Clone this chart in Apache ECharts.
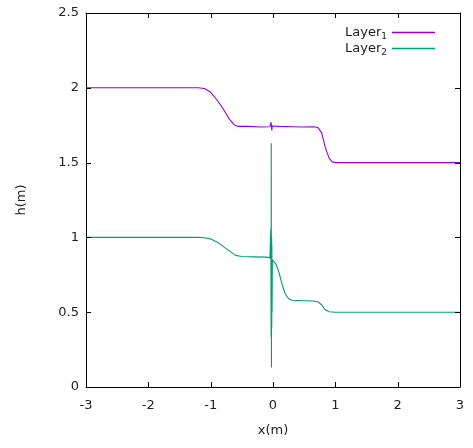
<!DOCTYPE html>
<html>
<head>
<meta charset="utf-8">
<script src="https://cdn.jsdelivr.net/npm/echarts@6/dist/echarts.min.js"></script>
<style>
  html, body { margin: 0; padding: 0; background: #fff; }
  #chart { width: 473px; height: 448px; }
</style>
</head>
<body>
<div id="chart"></div>
<script>
// values
const layer1X = [-3, -1.2, -1.1, -1.0, -0.9, -0.8, -0.7, -0.62, -0.55, -0.4, -0.2, -0.05, -0.03, -0.02, -0.01, 0.1, 0.3, 0.5, 0.65, 0.72, 0.78, 0.84, 0.9, 0.95, 1.0, 3]
const layer1H = [2.0, 2.0, 1.995, 1.97, 1.92, 1.86, 1.79, 1.752, 1.742, 1.742, 1.738, 1.74, 1.77, 1.715, 1.745, 1.742, 1.74, 1.738, 1.74, 1.735, 1.7, 1.6, 1.53, 1.505, 1.5, 1.5]

const layer2X = [-3, -1.2, -1.1, -1.0, -0.9, -0.8, -0.7, -0.6, -0.5, -0.3, -0.1, -0.05, -0.04, -0.035, -0.03, -0.028, -0.025, -0.022, -0.02, -0.018, -0.015, -0.01, 0.0, 0.05, 0.1, 0.15, 0.2, 0.25, 0.3, 0.5, 0.65, 0.72, 0.78, 0.83, 0.9, 1.0, 3]
const layer2H = [1.0, 1.0, 0.998, 0.99, 0.97, 0.94, 0.91, 0.88, 0.872, 0.87, 0.868, 0.862, 0.87, 1.06, 0.33, 1.63, 0.13, 1.0, 0.4, 0.95, 0.5, 0.85, 0.84, 0.82, 0.76, 0.68, 0.62, 0.59, 0.58, 0.577, 0.575, 0.57, 0.55, 0.52, 0.503, 0.5, 0.5]

const xTickValues = [-3, -2, -1, 0, 1, 2, 3]
const yTickValues = [0, 0.5, 1, 1.5, 2, 2.5]

const xMin = -3, xMax = 3, xStep = 1
const yMin = 0, yMax = 2.5, yStep = 0.5

const zip = (xs, ys) => xs.map((x, i) => [x, ys[i]])

const grid = { left: 86, right: 13, top: 13, bottom: 61 }
const font = 'DejaVu Sans'
const textColor = '#222'
const frameColor = '#000'
const tickLen = 5

const myChart = echarts.init(document.getElementById('chart'))

const axisLine = { show: true, onZero: false, lineStyle: { color: frameColor, width: 1 } }

const option = {
  animation: false,
  backgroundColor: '#fff',
  grid: grid,
  legend: {
    orient: 'vertical',
    right: 33,
    top: 21,
    align: 'right',
    icon: 'rect',
    itemWidth: 43,
    itemHeight: 1.5,
    itemGap: 1,
    formatter: name => name.replace(/(\d)$/, '{s|$1}'),
    textStyle: {
      fontFamily: font,
      fontSize: 13,
      color: textColor,
      rich: { s: { fontFamily: font, fontSize: 9, padding: [8, 0, 0, 0] } }
    },
    data: ['Layer1', 'Layer2']
  },
  xAxis: [
    {
      type: 'value', position: 'bottom',
      min: xMin, max: xMax, interval: xStep,
      axisLine: axisLine, axisTick: { show: false }, splitLine: { show: false },
      name: 'x(m)', nameLocation: 'middle', nameGap: 37,
      nameTextStyle: { fontFamily: font, fontSize: 13, color: textColor },
      axisLabel: { fontFamily: font, fontSize: 13, color: textColor, margin: 12 }
    },
    {
      type: 'value', position: 'top',
      min: xMin, max: xMax, interval: xStep,
      axisLine: axisLine, axisTick: { show: false }, splitLine: { show: false },
      axisLabel: { show: false }
    }
  ],
  yAxis: [
    {
      type: 'value', position: 'left',
      min: yMin, max: yMax, interval: yStep,
      axisLine: axisLine, axisTick: { show: false }, splitLine: { show: false },
      name: 'h(m)', nameLocation: 'middle', nameGap: 58, nameRotate: 90,
      nameTextStyle: { fontFamily: font, fontSize: 13, color: textColor },
      axisLabel: { fontFamily: font, fontSize: 13, color: textColor, margin: 7 }
    },
    {
      type: 'value', position: 'right',
      min: yMin, max: yMax, interval: yStep,
      axisLine: axisLine, axisTick: { show: false }, splitLine: { show: false },
      axisLabel: { show: false }
    }
  ],
  series: [
    {
      name: 'Layer1',
      type: 'line',
      symbol: 'none',
      color: '#9400d3',
      lineStyle: { width: 1.1 },
      data: zip(layer1X, layer1H)
    },
    {
      name: 'Layer2',
      type: 'line',
      symbol: 'none',
      color: '#009e73',
      lineStyle: { width: 1.1 },
      data: zip(layer2X, layer2H)
    }
  ]
}

myChart.setOption(option)

// inward ticks on all four sides, placed through the chart's own scales
const crisp = v => Math.round(v) + 0.5
const tickElements = []
xTickValues.forEach(v => {
  const lo = myChart.convertToPixel({ gridIndex: 0 }, [v, yMin])
  const hi = myChart.convertToPixel({ gridIndex: 0 }, [v, yMax])
  const x = crisp(lo[0])
  tickElements.push({ type: 'line', shape: { x1: x, y1: lo[1], x2: x, y2: lo[1] - tickLen }, style: { stroke: frameColor, lineWidth: 1 }, z: 100, silent: true })
  tickElements.push({ type: 'line', shape: { x1: x, y1: hi[1], x2: x, y2: hi[1] + tickLen }, style: { stroke: frameColor, lineWidth: 1 }, z: 100, silent: true })
})
yTickValues.forEach(v => {
  const lo = myChart.convertToPixel({ gridIndex: 0 }, [xMin, v])
  const hi = myChart.convertToPixel({ gridIndex: 0 }, [xMax, v])
  const y = crisp(lo[1])
  tickElements.push({ type: 'line', shape: { x1: lo[0], y1: y, x2: lo[0] + tickLen, y2: y }, style: { stroke: frameColor, lineWidth: 1 }, z: 100, silent: true })
  tickElements.push({ type: 'line', shape: { x1: hi[0], y1: y, x2: hi[0] - tickLen, y2: y }, style: { stroke: frameColor, lineWidth: 1 }, z: 100, silent: true })
})
myChart.setOption({ graphic: { elements: tickElements } })
</script>
</body>
</html>
